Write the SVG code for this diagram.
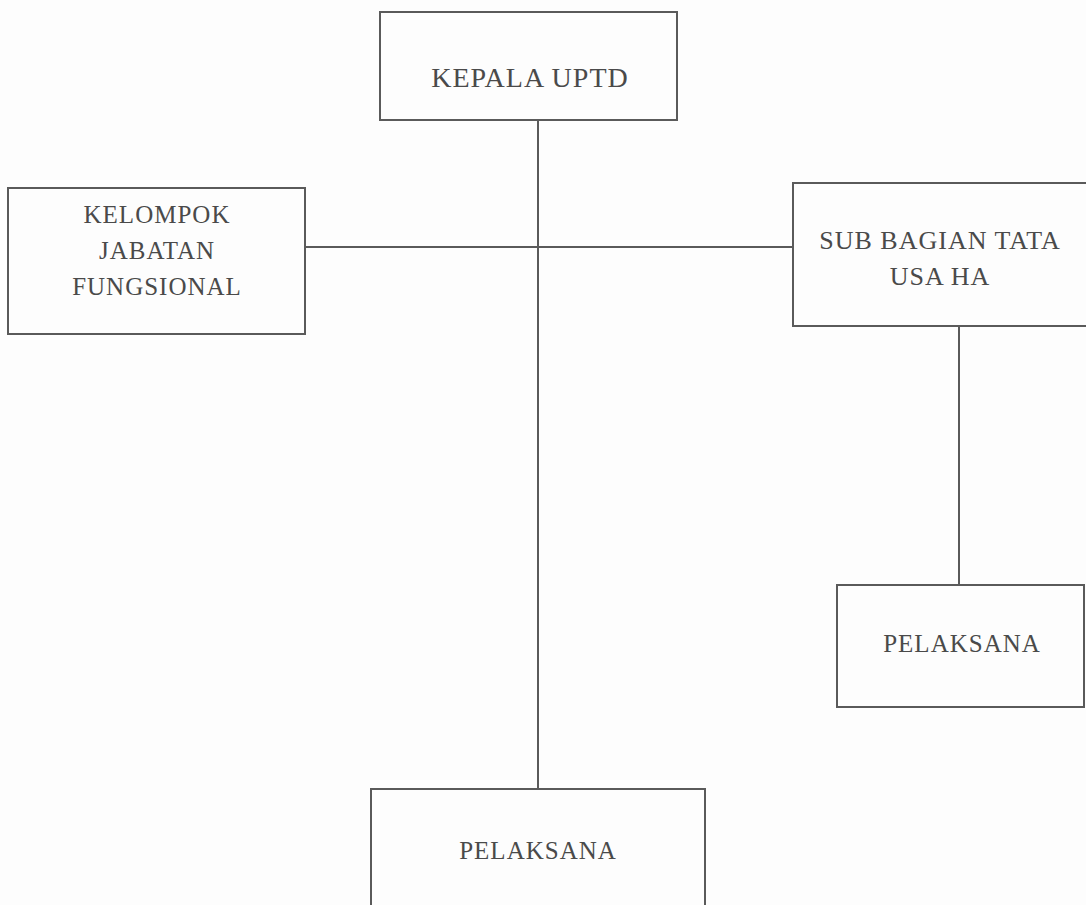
<svg xmlns="http://www.w3.org/2000/svg" width="1086" height="905" viewBox="0 0 1086 905">
<style>
.box{fill:#fdfdfd;stroke:#5a5a5a;stroke-width:2}
.lbl{font-family:"Liberation Serif","DejaVu Serif",serif;font-size:25px;fill:#4a4a4a;text-anchor:middle;letter-spacing:1px}
.conn{stroke:#5a5a5a;stroke-width:2;fill:none}
</style>
<rect x="0" y="0" width="1086" height="905" fill="#fdfdfd"/>
<g id="connectors">
<line class="conn" x1="538" y1="120" x2="538" y2="789"/>
<line class="conn" x1="305" y1="247" x2="793" y2="247"/>
<line class="conn" x1="959" y1="326" x2="959" y2="585"/>
</g>
<g id="kepala">
<rect class="box" x="380" y="12" width="297" height="108"/>
<text class="lbl" x="530" y="87" style="font-size:28px">KEPALA UPTD</text>
</g>
<g id="kelompok">
<rect class="box" x="8" y="188" width="297" height="146"/>
<text class="lbl" x="157" y="223">KELOMPOK</text>
<text class="lbl" x="157" y="259">JABATAN</text>
<text class="lbl" x="157" y="295">FUNGSIONAL</text>
</g>
<g id="subbagian">
<rect class="box" x="793" y="183" width="300" height="143"/>
<text class="lbl" x="940" y="249" style="font-size:26px">SUB BAGIAN TATA</text>
<text class="lbl" x="940" y="285" style="font-size:26px">USA HA</text>
</g>
<g id="pelaksana-right">
<rect class="box" x="837" y="585" width="247" height="122"/>
<text class="lbl" x="962" y="652">PELAKSANA</text>
</g>
<g id="pelaksana-bottom">
<rect class="box" x="371" y="789" width="334" height="130"/>
<text class="lbl" x="538" y="859">PELAKSANA</text>
</g>
</svg>
